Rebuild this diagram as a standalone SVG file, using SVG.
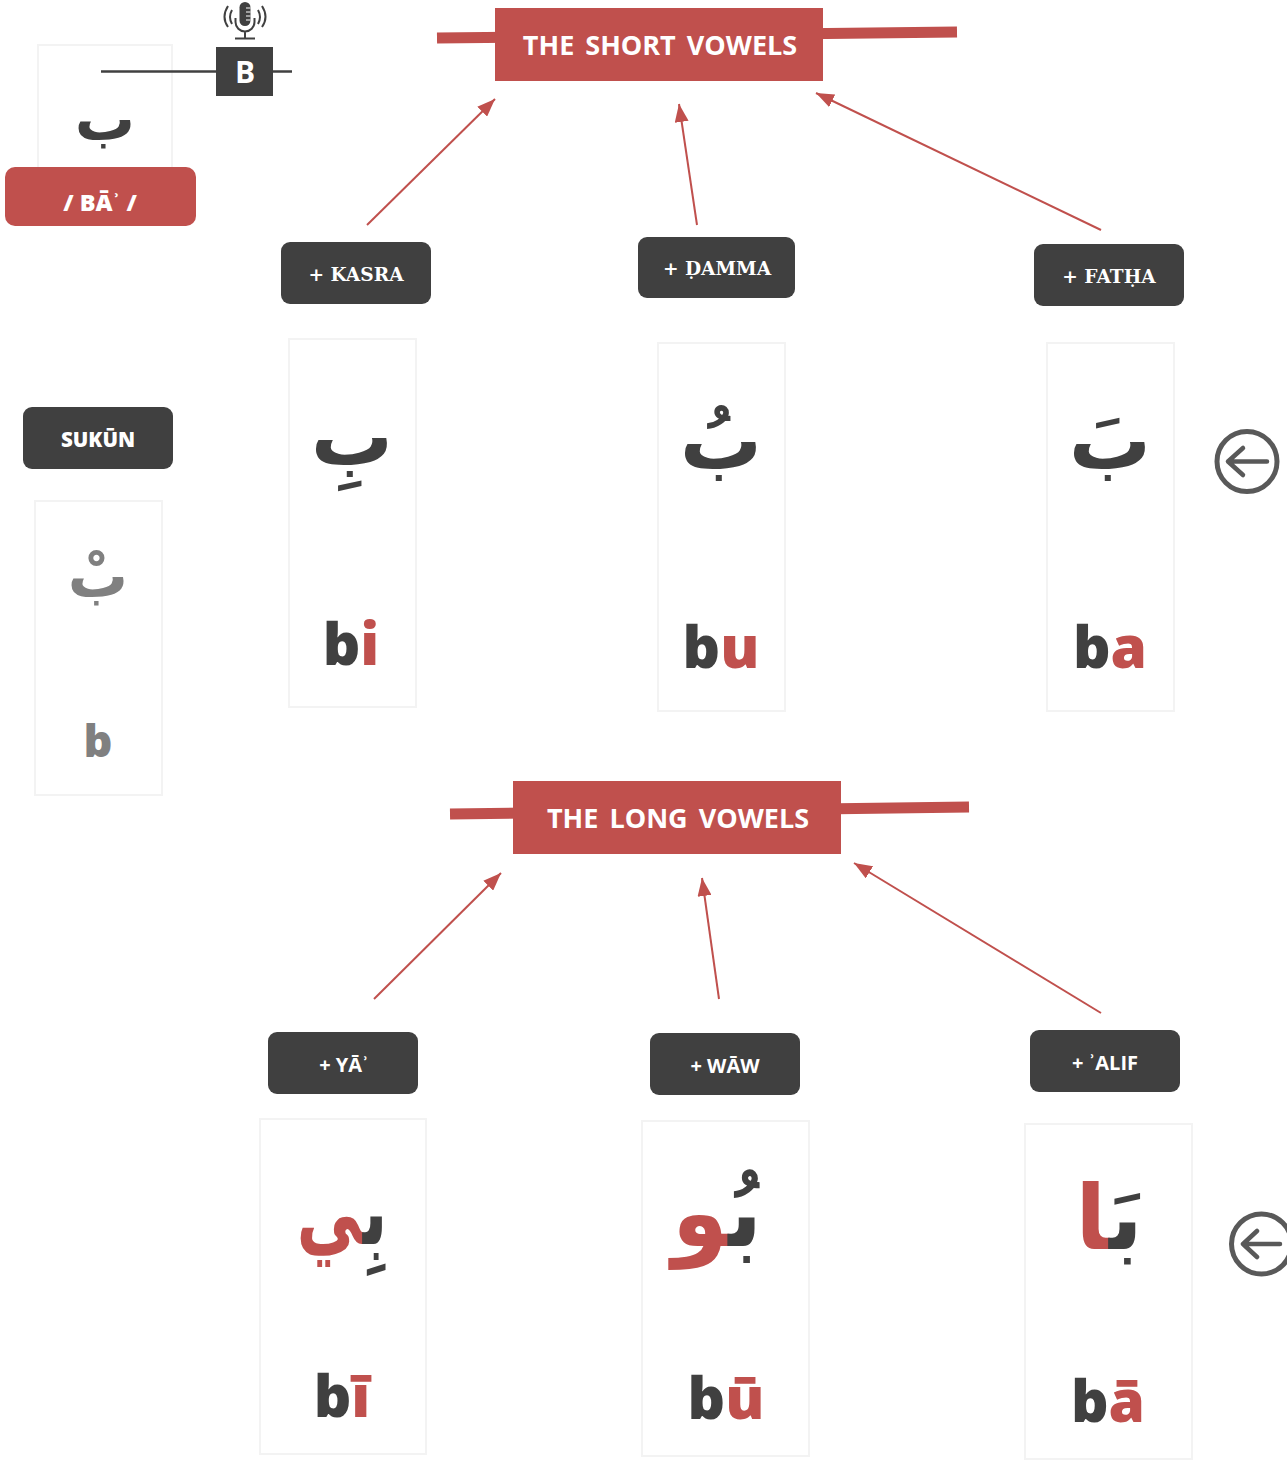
<svg xmlns="http://www.w3.org/2000/svg" width="1287" height="1461" viewBox="0 0 1287 1461">
<style>
.card{fill:#fff;stroke:#f3f3f3;stroke-width:2}
.tag{fill:#404040}
.red{fill:#c0504d}
.dk{fill:#404040}
.t{fill:#fff;text-anchor:middle;font-family:"Open Sans",sans-serif;font-weight:700;font-size:20px}
.s{fill:#fff;text-anchor:middle;font-family:"DejaVu Serif","Liberation Serif",serif;font-weight:700;font-size:18.600px}
.hd{fill:#fff;text-anchor:middle;font-family:"Open Sans",sans-serif;font-weight:700;font-size:27px;word-spacing:4px}
.ar{font-family:"DejaVu Sans",sans-serif;font-weight:700;text-anchor:middle;fill:#404040}
.lat{font-family:"Open Sans",sans-serif;font-weight:800;font-size:58.500px;text-anchor:middle;fill:#404040}
.conn{stroke:#c0504d;stroke-width:2;fill:none;marker-end:url(#ah)}
.bar{stroke:#c0504d;stroke-width:11;fill:none}
.go{fill:none;stroke:#595959;stroke-width:5;stroke-linecap:round;stroke-linejoin:round}
</style>
<defs>
<marker id="ah" markerUnits="userSpaceOnUse" markerWidth="18" markerHeight="14" refX="18" refY="7" orient="auto"><path d="M0 0L18 7L0 14z" fill="#c0504d"/></marker>
</defs>
<rect width="1287" height="1461" fill="#fff"/>
<g id="connectors">
<line class="conn" x1="367" y1="225" x2="495" y2="99"/>
<line class="conn" x1="697" y1="225" x2="679" y2="104"/>
<line class="conn" x1="1101" y1="230" x2="816" y2="93"/>
<line class="conn" x1="374" y1="999" x2="501" y2="873"/>
<line class="conn" x1="719" y1="999" x2="702" y2="878"/>
<line class="conn" x1="1101" y1="1013" x2="854" y2="863"/>
</g>
<g id="head-short">
<path class="bar" d="M437 38L957 32"/>
<rect class="red" x="495" y="8" width="328" height="73"/>
<text class="hd" x="660" y="55">THE SHORT VOWELS</text>
</g>
<g id="head-long">
<path class="bar" d="M450 814L969 807"/>
<rect class="red" x="513" y="781" width="328" height="73"/>
<text class="hd" x="678" y="828">THE LONG VOWELS</text>
</g>
<g id="letter-ba">
<rect class="card" x="38" y="45" width="134" height="150"/>
<text class="ar" font-size="60" x="105" y="140">ب</text>
<rect class="red" x="5" y="167" width="191" height="59" rx="10"/>
<text class="t" x="100" y="211" style="font-size:23.500px;font-weight:800">/ BĀʾ /</text>
</g>
<g id="mic">
<path d="M101 71.500H292" stroke="#404040" stroke-width="2.500" fill="none"/>
<rect class="tag" x="216" y="47" width="57" height="49"/>
<text class="t" x="245" y="83" style="font-size:30px">B</text>
<rect x="239.500" y="2" width="11" height="24" rx="5.500" fill="#404040"/>
<path d="M246 8h4.500M246 12h4.500M246 16h4.500M246 20h4.500" stroke="#fff" stroke-width="1" fill="none"/>
<path d="M235.500 18v4a9.500 9.500 0 0 0 19 0v-4M245 32v6M235 38.500h20" fill="none" stroke="#404040" stroke-width="2"/>
<path d="M232 10q-4 7 0 14M228 6q-7 11 0 21M258 10q4 7 0 14M262 6q7 11 0 21" fill="none" stroke="#404040" stroke-width="2"/>
</g>
<g id="kasra">
<rect class="tag" x="281" y="242" width="150" height="62" rx="9"/>
<text class="s" x="356" y="281">+ KASRA</text>
<rect class="card" x="289" y="339" width="127" height="368"/>
<text class="ar" font-size="82" x="352" y="465">بِ</text>
<text class="lat" x="351" y="665">b<tspan class="red">i</tspan></text>
</g>
<g id="damma">
<rect class="tag" x="638" y="237" width="157" height="61" rx="9"/>
<text class="s" x="717" y="275">+ ḌAMMA</text>
<rect class="card" x="658" y="343" width="127" height="368"/>
<text class="ar" font-size="82" x="721" y="469">بُ</text>
<text class="lat" x="721" y="668">b<tspan class="red">u</tspan></text>
</g>
<g id="fatha">
<rect class="tag" x="1034" y="244" width="150" height="62" rx="9"/>
<text class="s" x="1109" y="283">+ FATḤA</text>
<rect class="card" x="1047" y="343" width="127" height="368"/>
<text class="ar" font-size="82" x="1110" y="469">بَ</text>
<text class="lat" x="1110" y="668">b<tspan class="red">a</tspan></text>
<circle class="go" cx="1247" cy="461.500" r="30"/>
<path class="go" d="M1267 461.500H1228M1243 448L1228 461.500L1243 475" style="stroke-width:4.500"/>
</g>
<g id="sukun">
<rect class="tag" x="23" y="407" width="150" height="62" rx="9"/>
<text class="t" x="98" y="447" style="font-weight:800;font-size:20.500px">SUKŪN</text>
<rect class="card" x="35" y="501" width="127" height="294"/>
<text class="ar" font-size="60" x="98" y="597" style="fill:#808080">بْ</text>
<text class="lat" x="98" y="757" style="fill:#808080;font-size:45px">b</text>
</g>
<g id="ya">
<rect class="tag" x="268" y="1032" width="150" height="62" rx="9"/>
<text class="t" x="344" y="1072">+ YĀʾ</text>
<rect class="card" x="260" y="1119" width="166" height="335"/>
<text class="ar" font-size="82" transform="translate(342 1244) scale(.8 1.15)">بِ<tspan class="red">ي</tspan></text>
<text class="lat" x="342" y="1417">b<tspan class="red">ī</tspan></text>
</g>
<g id="waw">
<rect class="tag" x="650" y="1033" width="150" height="62" rx="9"/>
<text class="t" x="725" y="1073">+ WĀW</text>
<rect class="card" x="642" y="1121" width="167" height="335"/>
<text class="ar" font-size="90" transform="translate(717 1246) scale(1 1.08)">بُ<tspan class="red">و</tspan></text>
<text class="lat" x="726" y="1419">b<tspan class="red">ū</tspan></text>
</g>
<g id="alif">
<rect class="tag" x="1030" y="1030" width="150" height="62" rx="9"/>
<text class="t" x="1105" y="1070">+ ʾALIF</text>
<rect class="card" x="1025" y="1124" width="167" height="335"/>
<text class="ar" font-size="90" x="1109" y="1249">بَ<tspan class="red">ا</tspan></text>
<text class="lat" x="1108" y="1422">b<tspan class="red">ā</tspan></text>
<circle class="go" cx="1261.500" cy="1244" r="30"/>
<path class="go" d="M1280 1244H1243M1257 1231L1243 1244L1257 1257" style="stroke-width:4.500"/>
</g>
</svg>
